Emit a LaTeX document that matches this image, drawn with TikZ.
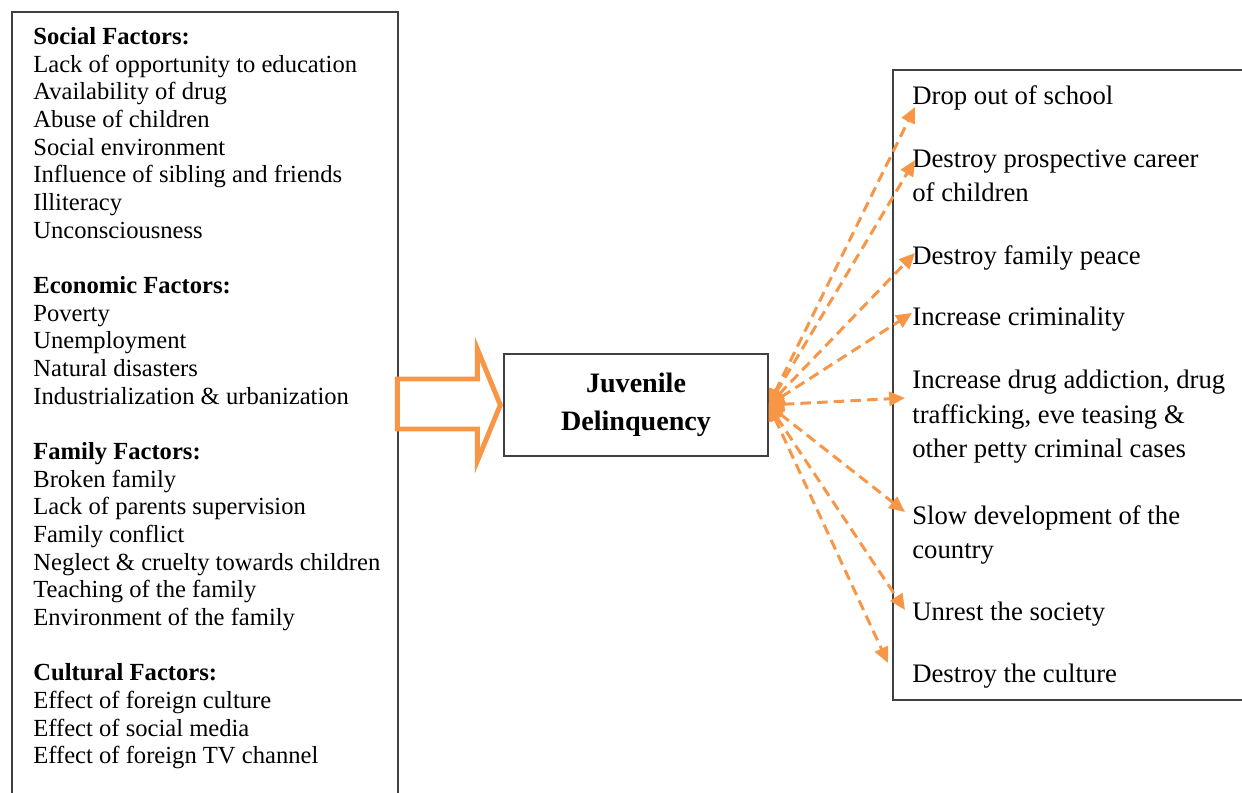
\documentclass[tikz,border=0pt]{standalone}
\usepackage{fontspec}
\setmainfont{Liberation Serif}
\definecolor{arroworange}{RGB}{247, 150, 70}
\definecolor{framegray}{RGB}{64, 64, 64}
\usetikzlibrary{arrows.meta, positioning, calc}
\tikzset{
  framebox/.style={draw=framegray, line width=0.8pt},
  factorlist/.style={anchor=north west, inner sep=0pt, align=left, font=\fontsize{14}{15.75}\selectfont},
  effectitem/.style={anchor=north west, inner sep=0pt, align=left, font=\fontsize{15.2}{19.6}\selectfont},
  centerbox/.style={draw=framegray, line width=0.8pt, minimum width=5.28cm, minimum height=2.04cm, align=center, font=\bfseries\fontsize{16}{21.5}\selectfont},
  effectarrow/.style={draw=arroworange, line width=1.7pt, dash pattern=on 6pt off 3.5pt, {Triangle[length=9pt,width=8pt]}-{Triangle[length=9pt,width=8pt]}},
  inputarrow/.style={draw=arroworange, line width=2.8pt}
}

\begin{document}
\begin{tikzpicture}[x=0.02cm, y=-0.02cm]
  \useasboundingbox (0,0) rectangle (1242,793);
  \draw[framebox] (12,793) -- (12,12) -- (398,12) -- (398,793);
  \draw[framebox] (1242,70) -- (893,70) -- (893,700) -- (1242,700);

  \node[factorlist] (causes) at (33,27) {
    \textbf{Social Factors:}\\
    Lack of opportunity to education\\
    Availability of drug\\
    Abuse of children\\
    Social environment\\
    Influence of sibling and friends\\
    Illiteracy\\
    Unconsciousness\\[15.75pt]
    \textbf{Economic Factors:}\\
    Poverty\\
    Unemployment\\
    Natural disasters\\
    Industrialization \& urbanization\\[15.75pt]
    \textbf{Family Factors:}\\
    Broken family\\
    Lack of parents supervision\\
    Family conflict\\
    Neglect \& cruelty towards children\\
    Teaching of the family\\
    Environment of the family\\[15.75pt]
    \textbf{Cultural Factors:}\\
    Effect of foreign culture\\
    Effect of social media\\
    Effect of foreign TV channel
  };

  \node[centerbox] (jd) at (636,405) {Juvenile\\Delinquency};

  \node[effectitem] (dropout) at (912,85) {Drop out of school};
  \node[effectitem] (career) at (912,149) {Destroy prospective career\\of children};
  \node[effectitem] (peace) at (912,245) {Destroy family peace};
  \node[effectitem] (crime) at (912,307) {Increase criminality};
  \node[effectitem] (drugs) at (912,370) {Increase drug addiction, drug\\trafficking, eve teasing \&\\other petty criminal cases};
  \node[effectitem] (develop) at (912,505) {Slow development of the\\country};
  \node[effectitem] (unrest) at (912,602) {Unrest the society};
  \node[effectitem] (culture) at (912,664) {Destroy the culture};

  \draw[inputarrow] ($(jd.west)+(-106,-26)$) -- ($(jd.west)+(-26,-26)$) -- ($(jd.west)+(-26,-56)$)
    -- ($(jd.west)+(-3,0)$) -- ($(jd.west)+(-26,56)$) -- ($(jd.west)+(-26,24)$) -- ($(jd.west)+(-106,24)$) -- cycle;

  \foreach \effect/\dx/\dy in {dropout/3/22, career/3/11, peace/3/8, crime/0/6, drugs/-7/28, develop/-7/7, unrest/-7/8, culture/-24/-1}
    \draw[effectarrow] (jd.east) -- ([shift={(\dx,\dy)}]\effect.north west);
\end{tikzpicture}
\end{document}
